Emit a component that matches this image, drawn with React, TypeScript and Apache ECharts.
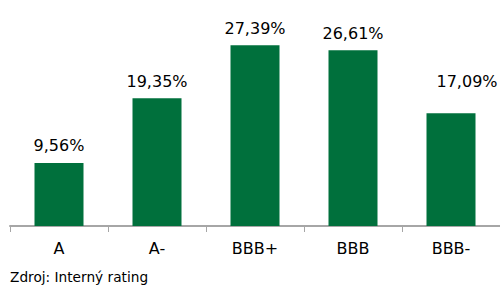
import React, { useEffect, useRef } from "react";
import * as echarts from "echarts";

const categories = ["A", "A-", "BBB+", "BBB", "BBB-"];
const shares = [9.56, 19.35, 27.39, 26.61, 17.09];
const sourceNote = "Zdroj: Interný rating";

const GREEN = "#00703c";
const FONT = "DejaVu Sans";

export default function App() {
  const ref = useRef<HTMLDivElement>(null);
  useEffect(() => {
    if (!ref.current) return;
    const chart = echarts.init(ref.current, null, { renderer: "svg" });
    const data = shares.map((v, i) =>
      i === shares.length - 1
        ? { value: v, label: { offset: [16, -15] } }
        : { value: v }
    );
    chart.setOption({
      animation: false,
      backgroundColor: "#ffffff",
      grid: { left: 10, right: 0, top: 28, bottom: 59, containLabel: false },
      xAxis: {
        type: "category",
        data: categories,
        boundaryGap: true,
        axisLine: { show: true, lineStyle: { color: "#a6a6a6", width: 2 } },
        axisTick: {
          show: true,
          alignWithLabel: false,
          length: 6,
          lineStyle: { color: "#a6a6a6", width: 1 },
        },
        axisLabel: {
          color: "#000000",
          fontFamily: FONT,
          fontSize: 16,
          margin: 14,
        },
      },
      yAxis: {
        type: "value",
        min: 0,
        max: 30,
        show: false,
        splitLine: { show: false },
      },
      series: [
        {
          type: "bar",
          data,
          barWidth: "50%",
          itemStyle: { color: GREEN },
          label: {
            show: true,
            position: "top",
            distance: 9,
            color: "#000000",
            fontFamily: FONT,
            fontSize: 16,
            formatter: (p: any) => p.value.toFixed(2).replace(".", ",") + "%",
          },
        },
      ],
      graphic: [
        {
          type: "text",
          left: 10,
          top: 270,
          style: {
            text: sourceNote,
            fill: "#000000",
            font: `13.7px "${FONT}"`,
          },
        },
      ],
    });
    return () => chart.dispose();
  }, []);
  return <div ref={ref} style={{ width: 500, height: 285, position: "absolute", left: 0, top: 0 }} />;
}
